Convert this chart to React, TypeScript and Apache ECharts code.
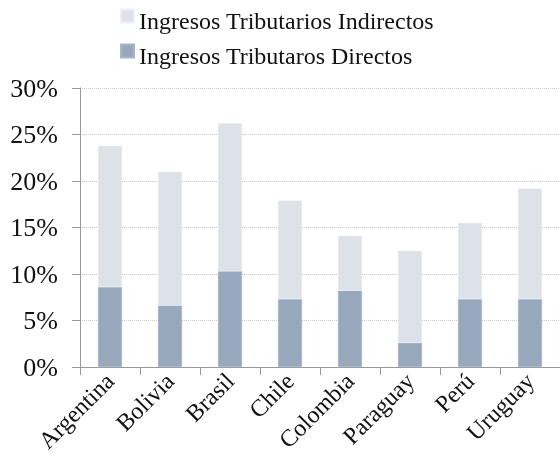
import React, { useEffect, useRef } from "react";
import * as echarts from "echarts";

const categories = ["Argentina", "Bolivia", "Brasil", "Chile", "Colombia", "Paraguay", "Perú", "Uruguay"];
const directos = [8.6, 6.6, 10.3, 7.3, 8.2, 2.6, 7.3, 7.3];
const indirectos = [15.2, 14.4, 15.9, 10.6, 5.9, 9.9, 8.2, 11.9];
const yTicks = { min: 0, max: 30, interval: 5 };

const FONT = "'Liberation Serif', 'DejaVu Serif', serif";

export default function App() {
  const ref = useRef<HTMLDivElement>(null);
  useEffect(() => {
    if (!ref.current) return;
    const chart = echarts.init(ref.current, undefined, { renderer: "svg" });
    chart.setOption({
      animation: false,
      textStyle: { fontFamily: FONT, color: "#111" },
      legend: {
        orient: "vertical",
        left: 115,
        top: -2,
        itemWidth: 13,
        itemHeight: 22,
        itemGap: 0,
        icon: "path://M0,0H13V13H0Z M0,22",
        data: ["Ingresos Tributarios Indirectos", "Ingresos Tributaros Directos"],
        textStyle: { fontFamily: FONT, fontSize: 24, color: "#111", padding: [11, 0, 0, 0], lineHeight: 24 },
      },
      grid: { left: 80, right: 0, top: 88, bottom: 107, containLabel: false },
      xAxis: {
        type: "category",
        data: categories,
        axisLine: { lineStyle: { color: "#999", width: 1 } },
        axisTick: { show: true, length: 8, lineStyle: { color: "#999" } },
        axisLabel: { rotate: 45, interval: 0, fontSize: 24, color: "#111", fontFamily: FONT, margin: 10 },
      },
      yAxis: {
        type: "value",
        min: yTicks.min,
        max: yTicks.max,
        interval: yTicks.interval,
        axisLine: { show: true, lineStyle: { color: "#999", width: 1 } },
        axisTick: { show: true, length: 8, lineStyle: { color: "#999" } },
        axisLabel: { formatter: "{value}%", fontSize: 26, color: "#111", fontFamily: FONT, margin: 22 },
        splitLine: { show: true, lineStyle: { color: "#c8c8c8", type: "dotted", width: 1 } },
      },
      series: [
        {
          name: "Ingresos Tributaros Directos",
          type: "bar",
          stack: "t",
          data: directos,
          barWidth: "40%",
          itemStyle: { color: "#97a8bd", borderColor: "#a6b5c7", borderWidth: 0.5 },
        },
        {
          name: "Ingresos Tributarios Indirectos",
          type: "bar",
          stack: "t",
          data: indirectos,
          barWidth: "40%",
          itemStyle: { color: "#dde2e9", borderColor: "#eceff3", borderWidth: 0.5 },
        },
      ],
    });
    return () => chart.dispose();
  }, []);
  return <div ref={ref} style={{ position: "fixed", left: 0, top: 0, width: 560, height: 474 }} />;
}
